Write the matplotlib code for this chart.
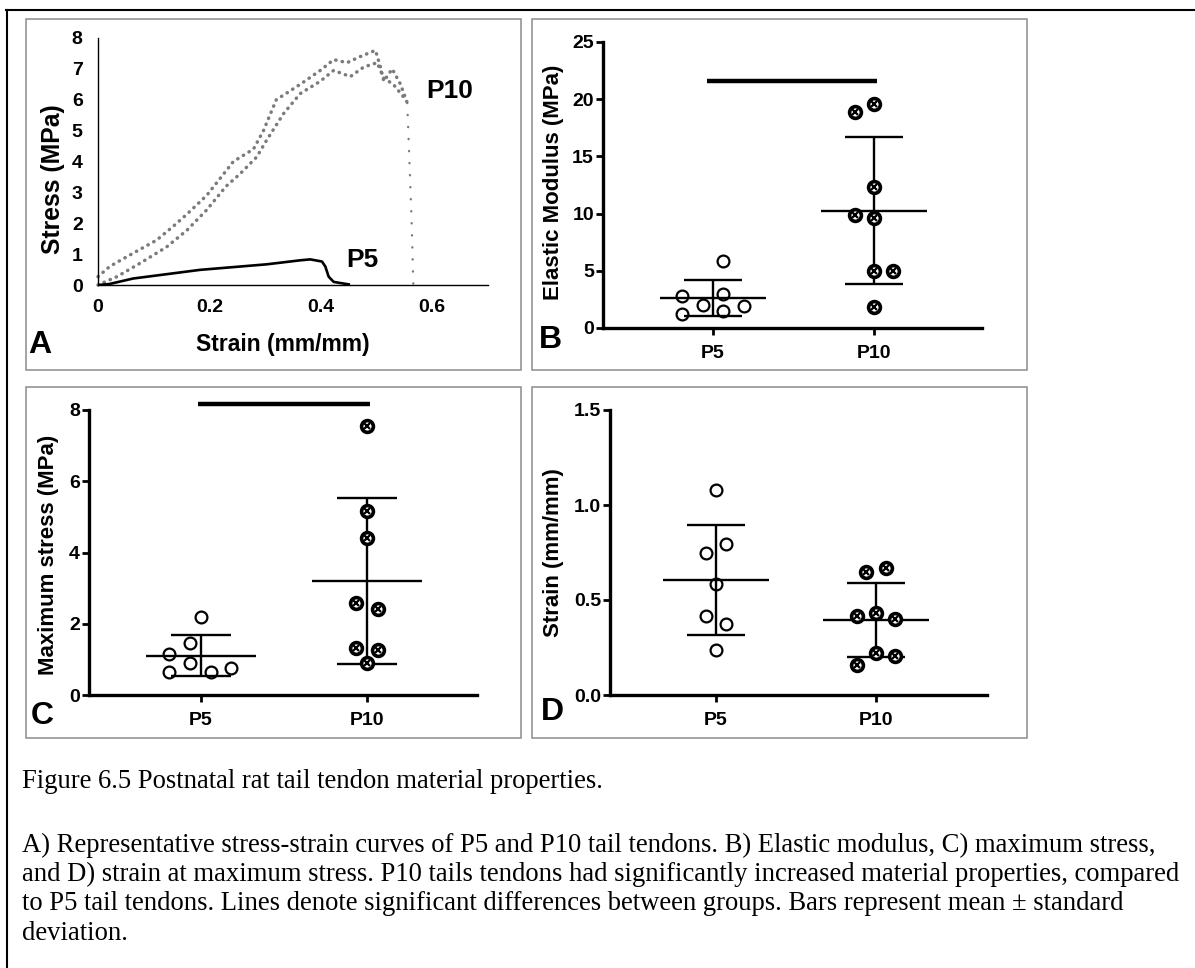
import numpy as np
import matplotlib.pyplot as plt
from matplotlib.patches import Rectangle
from matplotlib.lines import Line2D

W, H = 1195, 968
SANS = 'Liberation Sans'
SERIF = 'Liberation Serif'

# ---- panel A: representative stress-strain curves
p10_a_strain = [0.0, 0.021, 0.063, 0.105, 0.135, 0.16, 0.195, 0.23, 0.243, 0.279, 0.297,
                0.32, 0.363, 0.399, 0.423, 0.447, 0.471, 0.498, 0.507, 0.513, 0.528, 0.543, 0.555]
p10_a_stress = [0.27, 0.6, 1.03, 1.45, 1.9, 2.3, 2.9, 3.7, 4.0, 4.4, 5.0,
                6.0, 6.5, 6.95, 7.3, 7.2, 7.4, 7.6, 7.06, 6.6, 7.0, 6.5, 5.9]
p10_b_strain = [0.0, 0.034, 0.075, 0.123, 0.16, 0.195, 0.23, 0.255, 0.285, 0.303,
                0.333, 0.363, 0.399, 0.423, 0.453, 0.477, 0.501, 0.513, 0.53, 0.548]
p10_b_stress = [0.0, 0.27, 0.7, 1.23, 1.78, 2.43, 3.2, 3.6, 4.15, 4.7,
                5.55, 6.2, 6.6, 6.95, 6.75, 7.06, 7.2, 6.7, 6.5, 6.1]
p10_drop_strain = [0.555, 0.559, 0.563, 0.566]
p10_drop_stress = [5.9, 4.0, 2.0, 0.0]
p5_strain = [0.0, 0.02, 0.063, 0.183, 0.303, 0.363, 0.381, 0.402, 0.408, 0.414, 0.423, 0.45]
p5_stress = [0.0, 0.03, 0.21, 0.49, 0.67, 0.8, 0.83, 0.76, 0.6, 0.27, 0.1, 0.02]

# ---- panels B-D: individual tendons
groups = ['P5', 'P10']
modulus_p5 = [2.8, 1.2, 2.0, 5.9, 3.0, 1.5, 1.9]
modulus_p10 = [18.9, 19.6, 12.3, 9.9, 9.6, 5.0, 5.0, 1.85]
maxstress_p5 = [2.2, 1.45, 1.15, 0.9, 0.65, 0.65, 0.75]
maxstress_p10 = [7.55, 5.17, 4.4, 2.58, 2.41, 1.32, 1.26, 0.9]
strain_p5 = [1.08, 0.795, 0.745, 0.585, 0.415, 0.375, 0.235]
strain_p10 = [0.65, 0.67, 0.415, 0.43, 0.4, 0.22, 0.205, 0.16]

# horizontal scatter offsets (as laid out in the figure)
modulus_p5_jit = [-0.19, -0.19, -0.06, 0.06, 0.06, 0.06, 0.19]
modulus_p10_jit = [-0.12, 0, 0, -0.12, 0, 0, 0.12, 0]
maxstress_p5_jit = [0, -0.065, -0.19, -0.065, -0.19, 0.06, 0.18]
maxstress_p10_jit = [0, 0, 0, -0.065, 0.065, -0.065, 0.065, 0]
strain_p5_jit = [0, 0.06, -0.06, 0, -0.06, 0.06, 0]
strain_p10_jit = [-0.06, 0.06, -0.12, 0, 0.12, 0, 0.12, -0.12]

caption_title = 'Figure 6.5 Postnatal rat tail tendon material properties.'
caption_lines = [
    'A) Representative stress-strain curves of P5 and P10 tail tendons. B) Elastic modulus, C) maximum stress,',
    'and D) strain at maximum stress. P10 tails tendons had significantly increased material properties, compared',
    'to P5 tail tendons. Lines denote significant differences between groups. Bars represent mean \u00b1 standard',
    'deviation.',
]

plt.rcParams['font.family'] = [SANS, 'DejaVu Sans']
fig = plt.figure(figsize=(W / 100, H / 100), dpi=100)


def fx(px):
    return px / W


def fy(py):
    return 1 - py / H


def fig_box(x0, y0, x1, y1):
    return [x0 / W, 1 - y1 / H, (x1 - x0) / W, (y1 - y0) / H]


# outer frame lines
fig.add_artist(Line2D([fx(6), 1], [fy(9.5)] * 2, color='black', lw=1.5))
fig.add_artist(Line2D([fx(7)] * 2, [fy(9.5), 0], color='black', lw=1.5))

# panel borders
for x0, y0, x1, y1 in [(26, 19, 521, 370), (532, 19, 1027, 370),
                       (26, 387, 521, 738), (532, 387, 1027, 738)]:
    fig.add_artist(Rectangle((fx(x0), fy(y1)), (x1 - x0) / W, (y1 - y0) / H,
                             transform=fig.transFigure, fill=False,
                             ec='#8c8c8c', lw=1.1))

# ---------------- panel A
axA = fig.add_axes(fig_box(98, 38, 488, 285))
axA.set_facecolor('none')
gray = '#7b7b7b'
for xs, ys in [(p10_a_strain, p10_a_stress), (p10_b_strain, p10_b_stress)]:
    axA.plot(xs, ys, color=gray, lw=2.5, dashes=(0.1, 1.8),
             dash_capstyle='round', clip_on=False)
axA.plot(p10_drop_strain, p10_drop_stress, color=gray, lw=1.7, dashes=(0.1, 5.0),
         dash_capstyle='round')
axA.plot(p5_strain, p5_stress, color='black', lw=1.9)
axA.set_xlim(0, 0.7)
axA.set_ylim(0, 8)
axA.set_xticks([0, 0.2, 0.4, 0.6], ['0', '0.2', '0.4', '0.6'])
axA.set_yticks(range(0, 9))
for s in ['top', 'right']:
    axA.spines[s].set_visible(False)
for s in ['left', 'bottom']:
    axA.spines[s].set_linewidth(1.0)
axA.tick_params(length=0, labelsize=14)
axA.tick_params(axis='y', pad=11)
axA.tick_params(axis='x', pad=10)
for lab in axA.get_xticklabels() + axA.get_yticklabels():
    lab.set_fontweight('bold')
axA.text(0.631, 6.28, 'P10', fontsize=19, fontweight='bold', ha='center', va='center')
axA.text(0.474, 0.81, 'P5', fontsize=19, fontweight='bold', ha='center', va='center')
fig.text(fx(283), fy(345), 'Strain (mm/mm)', fontsize=16.5, fontweight='bold',
         ha='center', va='center')
fig.text(fx(53), fy(179), 'Stress (MPa)', fontsize=17.8, fontweight='bold',
         rotation=90, ha='center', va='center')


# ---------------- panels B-D
def dot_panel(box, xlim, p5, p5_jit, p10, p10_jit, ylim, yticks, yticklabels,
              ylabel, ylabel_xy, sig_bar=None):
    ax = fig.add_axes(fig_box(*box))
    ax.set_facecolor('none')
    ax.set_xlim(*xlim)
    ax.set_ylim(*ylim)
    for g, vals, jit, hatched in [(1, p5, p5_jit, False), (2, p10, p10_jit, True)]:
        vals = np.asarray(vals)
        m, sd = vals.mean(), vals.std(ddof=1)
        ax.hlines(m, g - 0.33, g + 0.33, color='black', lw=1.7, zorder=2)
        ax.vlines(g, m - sd, m + sd, color='black', lw=1.7, zorder=2)
        ax.hlines([m - sd, m + sd], g - 0.18, g + 0.18, color='black', lw=1.7, zorder=2)
        xs = g + np.asarray(jit)
        if hatched:
            ax.plot(xs, vals, 'o', ms=8.5, mfc='white', mec='black', mew=2.6,
                    zorder=3, clip_on=False)
            ax.plot(xs, vals, 'x', ms=4.2, mec='black', mew=1.6, zorder=4,
                    clip_on=False)
        else:
            ax.plot(xs, vals, 'o', ms=8.5, mfc='none', mec='black', mew=1.6,
                    zorder=3, clip_on=False)
    if sig_bar is not None:
        (bx0, bx1), by = sig_bar
        ax.plot([bx0, bx1], [by, by], color='black', lw=3.2,
                solid_capstyle='butt', clip_on=False)
    ax.set_xticks([1, 2], groups)
    ax.set_yticks(yticks, yticklabels)
    for s in ['top', 'right']:
        ax.spines[s].set_visible(False)
    for s in ['left', 'bottom']:
        ax.spines[s].set_linewidth(2.4)
        ax.spines[s].set_capstyle('projecting')
    ax.tick_params(length=5, width=2.0, labelsize=14)
    ax.tick_params(axis='y', pad=1.5)
    ax.tick_params(axis='x', pad=7.5)
    for lab in ax.get_xticklabels() + ax.get_yticklabels():
        lab.set_fontweight('bold')
    fig.text(fx(ylabel_xy[0]), fy(ylabel_xy[1]), ylabel, fontsize=16,
             fontweight='bold', rotation=90, ha='center', va='center')
    return ax


dot_panel((603, 42, 982, 328), (0.317, 2.671), modulus_p5, modulus_p5_jit,
          modulus_p10, modulus_p10_jit, (0, 25), [0, 5, 10, 15, 20, 25],
          ['0', '5', '10', '15', '20', '25'], 'Elastic Modulus (MPa)', (553, 182),
          sig_bar=((0.96, 2.02), 21.6))
dot_panel((89, 410, 477, 695), (0.325, 2.663), maxstress_p5, maxstress_p5_jit,
          maxstress_p10, maxstress_p10_jit, (0, 8), [0, 2, 4, 6, 8],
          ['0', '2', '4', '6', '8'], 'Maximum stress (MPa)', (49, 555),
          sig_bar=((0.98, 2.02), 8.16))
dot_panel((610, 410, 987, 695), (0.3375, 2.694), strain_p5, strain_p5_jit,
          strain_p10, strain_p10_jit, (0, 1.5), [0, 0.5, 1.0, 1.5],
          ['0.0', '0.5', '1.0', '1.5'], 'Strain (mm/mm)', (553, 553))

# panel letters
for letter, (px, py) in zip('ABCD', [(28, 345), (539, 340), (31, 716), (541, 712)]):
    fig.text(fx(px), fy(py), letter, fontsize=23, fontweight='bold',
             ha='left', va='center')

# caption
fig.text(fx(22), fy(781), caption_title, family=SERIF, fontsize=19.2,
         ha='left', va='center')
for i, line in enumerate(caption_lines):
    fig.text(fx(22), fy(845 + 29.5 * i), line, family=SERIF, fontsize=19.2,
             ha='left', va='center')

fig.savefig('out.png', dpi=100)
